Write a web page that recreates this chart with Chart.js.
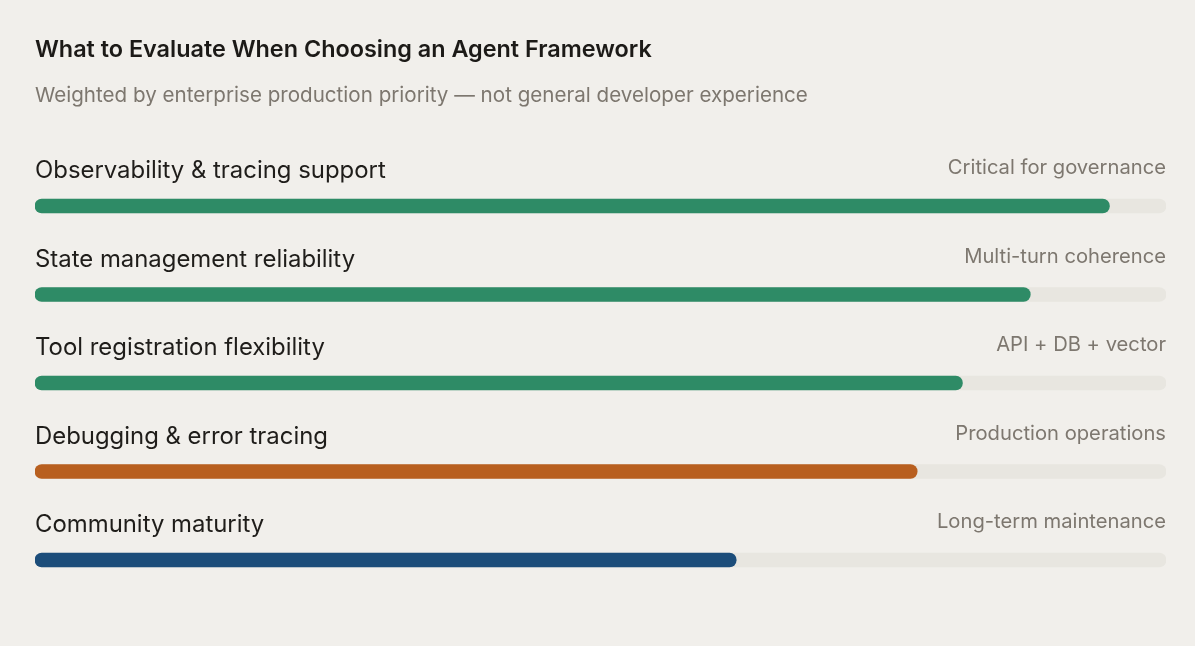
<!DOCTYPE html>
<html>
<head>
<meta charset="utf-8">
<script src="https://cdn.jsdelivr.net/npm/chart.js@4.4.1/dist/chart.umd.min.js"></script>
<style>
  html, body { margin: 0; padding: 0; background: #f1efeb; }
  #wrap { width: 1195px; height: 646px; position: relative; }
</style>
</head>
<body>
<div id="wrap"><canvas id="c" width="1195" height="646"></canvas></div>
<script>
const titleText = "What to Evaluate When Choosing an Agent Framework";
const subtitleText = "Weighted by enterprise production priority — not general developer experience";
const categories = [
  "Observability & tracing support",
  "State management reliability",
  "Tool registration flexibility",
  "Debugging & error tracing",
  "Community maturity"
];
const notes = [
  "Critical for governance",
  "Multi-turn coherence",
  "API + DB + vector",
  "Production operations",
  "Long-term maintenance"
];
const scores = [95, 88, 82, 78, 62];
const trackMax = [100, 100, 100, 100, 100];
const barColors = ["#2e8b66", "#2e8b66", "#2e8b66", "#b85f1f", "#1c4d7a"];

const FONT = "Inter, 'DejaVu Sans', sans-serif";

const textPlugin = {
  id: 'textPlugin',
  afterDraw(chart) {
    const ctx = chart.ctx;
    const yScale = chart.scales.y;
    const xScale = chart.scales.x;
    ctx.save();
    ctx.textBaseline = 'alphabetic';
    ctx.fillStyle = '#1c1a17';
    ctx.font = "600 23.4px " + FONT;
    ctx.textAlign = 'left';
    ctx.fillText(titleText, 35, 57);
    ctx.fillStyle = '#7d776f';
    ctx.font = "400 20.6px " + FONT;
    ctx.fillText(subtitleText, 35, 102);
    categories.forEach((cat, i) => {
      const yc = yScale.getPixelForValue(i);
      ctx.fillStyle = '#1f1d1a';
      ctx.font = "400 23.9px " + FONT;
      ctx.textAlign = 'left';
      ctx.fillText(cat, xScale.left, yc - 28);
      ctx.fillStyle = '#7d776f';
      ctx.font = "400 20.2px " + FONT;
      ctx.textAlign = 'right';
      ctx.fillText(notes[i], xScale.right, yc - 32);
    });
    ctx.restore();
  }
};

new Chart(document.getElementById('c'), {
  type: 'bar',
  data: {
    labels: categories,
    datasets: [
      {
        data: scores,
        backgroundColor: barColors,
        borderRadius: 7,
        borderSkipped: false,
        barThickness: 14,
        grouped: false
      },
      {
        data: trackMax,
        backgroundColor: '#e8e6e0',
        borderRadius: 7,
        borderSkipped: false,
        barThickness: 14,
        grouped: false
      }
    ]
  },
  options: {
    indexAxis: 'y',
    responsive: false,
    animation: false,
    layout: { padding: { left: 35, right: 29, top: 161.75, bottom: 41.75 } },
    scales: {
      x: { display: false, min: 0, max: 100 },
      y: { display: false }
    },
    plugins: { legend: { display: false }, tooltip: { enabled: false }, title: { display: false } }
  },
  plugins: [textPlugin]
});
</script>
</body>
</html>
